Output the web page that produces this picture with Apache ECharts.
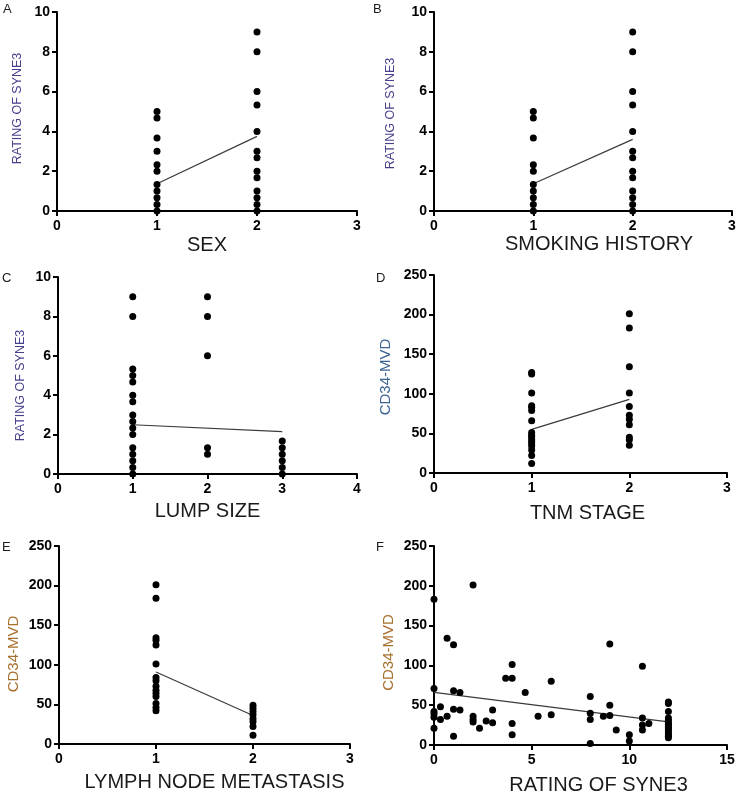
<!DOCTYPE html>
<html>
<head>
<meta charset="utf-8">
<script src="https://cdn.jsdelivr.net/npm/echarts@6/dist/echarts.min.js"></script>
<style>
html,body{margin:0;padding:0;background:#fff;}
#chart{width:739px;height:797px;}
</style>
</head>
<body>
<div id="chart"></div>
<script>
// ---- Data ----
// A: SEX
var sexGroup1 = [5, 4.67, 3.67, 3, 2.33, 2, 1.33, 1, 0.67, 0.33, 0];
var sexGroup2 = [9, 8, 6, 5.33, 4, 3, 2.67, 2, 1.67, 1, 0.67, 0.33, 0];
var sexFit = [[1, 1.37], [2, 3.75]];
// B: SMOKING HISTORY
var smokeGroup1 = [5, 4.67, 3.67, 2.33, 2, 1.33, 1, 0.67, 0.33, 0];
var smokeGroup2 = [9, 8, 6, 5.33, 4, 3, 2.67, 2, 1.67, 1, 0.67, 0.33, 0];
var smokeFit = [[1, 1.37], [2, 3.6]];
// C: LUMP SIZE
var lumpGroup1 = [9, 8, 5.33, 5, 4.67, 4, 3.67, 3, 2.67, 2.33, 2, 1.33, 1, 0.67, 0.33, 0];
var lumpGroup2 = [9, 8, 6, 1.33, 1];
var lumpGroup3 = [1.67, 1.33, 1, 0.67, 0.33, 0];
var lumpFit = [[1, 2.5], [3, 2.15]];
// D: TNM STAGE
var tnmGroup1 = [127, 125, 101, 85, 83, 79, 66, 51, 48, 46, 43, 40, 37, 34, 29, 22, 12];
var tnmGroup2 = [201, 183, 134, 101, 84, 73, 68, 61, 45, 42, 35];
var tnmFit = [[1, 55], [2, 93]];
// E: LYMPH NODE METASTASIS
var lymphGroup1 = [201, 184, 134, 131, 125, 101, 84, 80, 73, 68, 64, 60, 51, 46, 42];
var lymphGroup2 = [49, 45, 41, 37, 32, 28, 22, 11];
var lymphFit = [[1, 91], [2, 36]];
// F: RATING OF SYNE3 vs CD34-MVD
var syneRating = [0, 0, 0, 0, 0, 0, 0.33, 0.33, 0.67, 0.67, 1, 1, 1, 1, 1.33, 1.33,
  2, 2, 2, 2, 2.33, 2.67, 3, 3, 3.67, 4, 4, 4, 4, 4.67, 5.33, 6, 6,
  8, 8, 8, 8, 8.67, 9, 9, 9, 9.33, 10, 10, 10.67, 10.67, 10.67, 10.67, 11,
  12, 12, 12, 12, 12, 12, 12, 12, 12, 12, 12, 12, 12, 12, 12];
var cd34Mvd = [183, 71, 42, 39, 35, 21, 48, 32, 134, 36, 126, 68, 45, 11, 66, 44,
  201, 36, 32, 29, 21, 30, 44, 28, 84, 101, 84, 27, 13, 66, 36, 80, 38,
  61, 40, 32, 2, 36, 127, 50, 37, 19, 13, 5, 99, 34, 25, 19, 27,
  54, 52, 42, 34, 31, 28, 26, 24, 22, 20, 18, 15, 13, 11, 9];
var syneFit = [[0, 66], [12, 29]];

// tick settings
var xTicks3 = {min: 0, max: 3, interval: 1};
var xTicks4 = {min: 0, max: 4, interval: 1};
var xTicks15 = {min: 0, max: 15, interval: 5};
var yTicks10 = {min: 0, max: 10, interval: 2};
var yTicks250 = {min: 0, max: 250, interval: 50};

// ---- Build ----
var FONT = '"Liberation Sans", Arial, Helvetica, sans-serif';
function groupPts(vals, x) { return vals.map(function (v) { return [x, v]; }); }

var grids = [
  {left: 57, top: 12, width: 300, height: 199},
  {left: 434, top: 12, width: 298, height: 199},
  {left: 58, top: 277, width: 299, height: 197},
  {left: 434, top: 275, width: 293, height: 198},
  {left: 59, top: 546, width: 291, height: 198},
  {left: 434, top: 546, width: 293, height: 199}
];

var axisLineStyle = {show: true, onZero: false, lineStyle: {color: '#000', width: 2}};
var axisTickStyle = {show: true, inside: false, length: 5, lineStyle: {color: '#000', width: 2}};
function xAx(i, t, name, shift, gap) {
  return {
    type: 'value', gridIndex: i, min: t.min, max: t.max, interval: t.interval,
    axisLine: axisLineStyle, axisTick: axisTickStyle, splitLine: {show: false},
    axisLabel: {color: '#000', fontWeight: 'bold', fontSize: 14, fontFamily: FONT, margin: 8},
    name: name, nameLocation: 'middle', nameGap: gap,
    nameTextStyle: {color: '#1a1a1a', fontSize: 20, fontFamily: FONT,
      padding: shift > 0 ? [0, 0, 0, shift * 2] : [0, -shift * 2, 0, 0]}
  };
}
function yAx(i, t, name, color, size, gap, down) {
  return {
    type: 'value', gridIndex: i, min: t.min, max: t.max, interval: t.interval,
    axisLine: axisLineStyle, axisTick: axisTickStyle, splitLine: {show: false},
    axisLabel: {color: '#000', fontWeight: 'bold', fontSize: 14, fontFamily: FONT, margin: 7},
    name: name, nameLocation: 'middle', nameGap: gap,
    nameTextStyle: {color: color, fontSize: size, fontFamily: FONT,
      padding: down > 0 ? [0, down * 2, 0, 0] : [0, 0, 0, -down * 2]}
  };
}

var xAxes = [
  xAx(0, xTicks3, 'SEX', 0, 24),
  xAx(1, xTicks3, 'SMOKING HISTORY', 16, 23),
  xAx(2, xTicks4, 'LUMP SIZE', 0, 27),
  xAx(3, xTicks3, 'TNM STAGE', 7, 30),
  xAx(4, xTicks3, 'LYMPH NODE METASTASIS', 10, 28),
  xAx(5, xTicks15, 'RATING OF SYNE3', 18, 30)
];
var yAxes = [
  yAx(0, yTicks10, 'RATING OF SYNE3', '#47408c', 12.5, 33, -3),
  yAx(1, yTicks10, 'RATING OF SYNE3', '#47408c', 12.5, 37, 2),
  yAx(2, yTicks10, 'RATING OF SYNE3', '#47408c', 12.5, 31, 10),
  yAx(3, yTicks250, 'CD34-MVD', '#3d6493', 15, 41, 3),
  yAx(4, yTicks250, 'CD34-MVD', '#a8702e', 15, 38, 9),
  yAx(5, yTicks250, 'CD34-MVD', '#a8702e', 15, 38, 7)
];

function scatter(i, pts) {
  return {type: 'scatter', xAxisIndex: i, yAxisIndex: i, data: pts, symbolSize: 7,
    itemStyle: {color: '#000', opacity: 1}, silent: true, z: 3};
}
function fit(i, pts) {
  return {type: 'line', xAxisIndex: i, yAxisIndex: i, data: pts, symbol: 'none',
    lineStyle: {color: '#3a3a3a', width: 1.2}, silent: true, z: 2};
}

var series = [
  scatter(0, groupPts(sexGroup1, 1).concat(groupPts(sexGroup2, 2))), fit(0, sexFit),
  scatter(1, groupPts(smokeGroup1, 1).concat(groupPts(smokeGroup2, 2))), fit(1, smokeFit),
  scatter(2, groupPts(lumpGroup1, 1).concat(groupPts(lumpGroup2, 2), groupPts(lumpGroup3, 3))), fit(2, lumpFit),
  scatter(3, groupPts(tnmGroup1, 1).concat(groupPts(tnmGroup2, 2))), fit(3, tnmFit),
  scatter(4, groupPts(lymphGroup1, 1).concat(groupPts(lymphGroup2, 2))), fit(4, lymphFit),
  scatter(5, syneRating.map(function (x, k) { return [x, cd34Mvd[k]]; })), fit(5, syneFit)
];

var letters = [['A', 3, 3], ['B', 373, 3], ['C', 2, 272], ['D', 376, 272], ['E', 2, 541], ['F', 376, 541]];
var graphics = letters.map(function (l) {
  return {type: 'text', left: l[1], top: l[2],
    style: {text: l[0], fill: '#1a1a1a', font: '13px ' + FONT}};
});

var chart = echarts.init(document.getElementById('chart'), null, {renderer: 'canvas'});
chart.setOption({
  animation: false,
  backgroundColor: '#fff',
  grid: grids,
  xAxis: xAxes,
  yAxis: yAxes,
  series: series,
  graphic: graphics
});
</script>
</body>
</html>
